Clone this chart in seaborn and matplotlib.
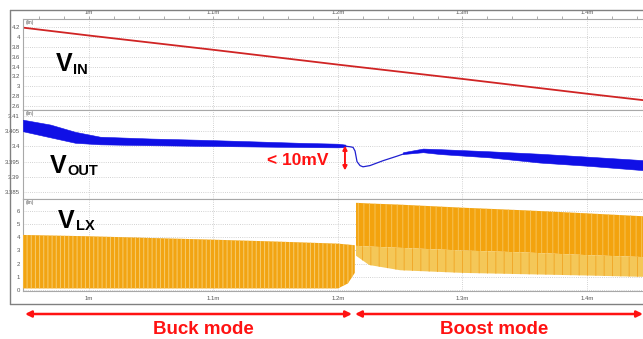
import matplotlib
matplotlib.use("Agg")
import matplotlib.pyplot as plt
import seaborn as sns
import pandas as pd
from matplotlib.patches import FancyArrowPatch
from matplotlib.lines import Line2D

# ---------------- data (time in ms) ----------------
t_vin = [0.947, 1.0, 1.1, 1.2, 1.3, 1.4, 1.445]
vin = [4.19, 4.03, 3.74, 3.44, 3.15, 2.85, 2.72]

t_vout_buck = [0.947, 0.969, 0.989, 1.009, 1.05, 1.089, 1.13, 1.169, 1.2, 1.206]
vout_buck_hi = [3.4088, 3.4072, 3.4048, 3.4032, 3.4026, 3.4022, 3.4017, 3.4012, 3.4009, 3.4006]
vout_buck_lo = [3.4050, 3.4030, 3.4012, 3.4007, 3.4004, 3.4002, 3.4000, 3.3998, 3.3997, 3.3998]

t_vout_tr = [1.2056, 1.2097, 1.2121, 1.2137, 1.2153, 1.2177, 1.2201, 1.2257, 1.2361, 1.2474, 1.2538]
vout_tr = [3.4001, 3.3999, 3.3997, 3.3985, 3.3950, 3.3937, 3.3933, 3.3937, 3.3953, 3.3968, 3.3977]

t_vout_boost = [1.2522, 1.2683, 1.282, 1.322, 1.362, 1.402, 1.445]
vout_boost_hi = [3.3981, 3.3993, 3.3991, 3.3984, 3.3976, 3.3966, 3.3955]
vout_boost_lo = [3.3975, 3.3981, 3.3975, 3.3964, 3.3947, 3.3936, 3.3922]

t_lx_buck = [0.947, 1.0, 1.05, 1.1, 1.15, 1.2, 1.208, 1.2135]
vlx_buck_hi = [4.18, 4.08, 3.95, 3.82, 3.68, 3.52, 3.45, 3.40]
vlx_buck_lo = [0.12, 0.12, 0.12, 0.12, 0.12, 0.12, 0.5, 1.3]

t_lx_boost = [1.2145, 1.225, 1.25, 1.3, 1.35, 1.4, 1.445]
vlx_boost_hi = [6.62, 6.57, 6.48, 6.25, 6.05, 5.82, 5.6]
vlx_boost_mid = [3.35, 3.3, 3.2, 3.0, 2.85, 2.65, 2.5]
vlx_boost_lo = [2.6, 1.9, 1.5, 1.3, 1.2, 1.1, 1.0]

x_major = [1.0, 1.1, 1.2, 1.3, 1.4]
x_labels = ["1m", "1.1m", "1.2m", "1.3m", "1.4m"]
vin_ticks = [2.6, 2.8, 3.0, 3.2, 3.4, 3.6, 3.8, 4.0, 4.2]
vin_labels = ["2.6", "2.8", "3", "3.2", "3.4", "3.6", "3.8", "4", "4.2"]
vout_ticks = [3.385, 3.39, 3.395, 3.4, 3.405, 3.41]
vout_labels = ["3.385", "3.39", "3.395", "3.4", "3.405", "3.41"]
vlx_ticks = [0, 1, 2, 3, 4, 5, 6]
vlx_labels = ["0", "1", "2", "3", "4", "5", "6"]

# ---------------- style ----------------
sns.set_style("white")
plt.rcParams["font.family"] = ["Liberation Sans", "DejaVu Sans"]
plt.rcParams["hatch.linewidth"] = 0.7

W, H = 643, 339
fig = plt.figure(figsize=(6.43, 3.39), dpi=100)
fig.patch.set_facecolor("white")


def fx(x):
    return x / W


def fy(y):
    return 1 - y / H


def add_ax(top, bottom):
    return fig.add_axes([fx(23), fy(bottom), 1 - fx(23), (bottom - top) / H])


ax1 = add_ax(19, 110)
ax2 = add_ax(110, 199)
ax3 = add_ax(199, 291)

GRID = "#c4c4c4"
TICKC = "#555555"
SPINE = "#a8a8a8"

# ---------------- VIN ----------------
df_vin = pd.DataFrame({"t": t_vin, "v": vin})
sns.lineplot(data=df_vin, x="t", y="v", ax=ax1, color="#d02424", linewidth=1.3)

# ---------------- VOUT ----------------
ax2.fill_between(t_vout_buck, vout_buck_lo, vout_buck_hi, facecolor="#1010e6",
                 edgecolor="#1010e6", linewidth=0.4, zorder=3)
df_tr = pd.DataFrame({"t": t_vout_tr, "v": vout_tr})
sns.lineplot(data=df_tr, x="t", y="v", ax=ax2, color="#2020d0", linewidth=0.9, zorder=3)
ax2.fill_between(t_vout_boost, vout_boost_lo, vout_boost_hi, facecolor="#1010e6",
                 edgecolor="#1010e6", linewidth=0.4, zorder=3)

# ---------------- VLX ----------------
ax3.fill_between(t_lx_buck, vlx_buck_lo, vlx_buck_hi, facecolor="#f2a412",
                 edgecolor="#f6cc70", hatch="||||", linewidth=0, zorder=3)
ax3.fill_between(t_lx_boost, vlx_boost_mid, vlx_boost_hi, facecolor="#f3a30e",
                 edgecolor="#f6c256", hatch="|||", linewidth=0, zorder=3)
ax3.fill_between(t_lx_boost, vlx_boost_lo, vlx_boost_mid, facecolor="#f4c758",
                 edgecolor="#f1a92a", hatch="||", linewidth=0, zorder=3)

for ax, ticks, labels, ylim in [
    (ax1, vin_ticks, vin_labels, (2.52, 4.365)),
    (ax2, vout_ticks, vout_labels, (3.3827, 3.412)),
    (ax3, vlx_ticks, vlx_labels, (-0.076, 6.91)),
]:
    ax.set_xlabel("")
    ax.set_ylabel("")
    ax.set_xlim(0.947, 1.445)
    ax.set_ylim(*ylim)
    ax.set_yticks(ticks)
    ax.set_yticklabels(labels)
    ax.set_xticks(x_major)
    ax.set_xticks([v / 100 for v in range(96, 146, 2)], minor=True)
    ax.tick_params(axis="y", length=0, pad=2.2, labelsize=4.3, labelcolor=TICKC)
    ax.grid(True, which="major", color=GRID, linestyle=(0, (1, 1.6)), linewidth=0.6)
    for s in ["top", "bottom", "left", "right"]:
        ax.spines[s].set_color(SPINE)
        ax.spines[s].set_linewidth(0.8)
    ax.spines["right"].set_visible(False)
    ax.set_axisbelow(True)
    ax.text(0.004, 0.985, "(lin)", transform=ax.transAxes, fontsize=3.6,
            color=TICKC, va="top", ha="left")

# top axis labels on ax1
ax1.xaxis.tick_top()
ax1.set_xticklabels(x_labels)
ax1.tick_params(axis="x", which="both", direction="out", length=2.2, width=0.5,
                color="#888888", pad=0.5, labelsize=4.3, labelcolor=TICKC)
ax2.tick_params(axis="x", which="both", length=0, labelbottom=False)
ax3.set_xticklabels(x_labels)
ax3.tick_params(axis="x", which="both", direction="out", length=2.2, width=0.5,
                color="#888888", pad=1.5, labelsize=4.3, labelcolor=TICKC)

# ---------------- outer frame ----------------
FRAME = "#808080"
fig.add_artist(Line2D([fx(10), fx(10)], [fy(10), fy(304)], color=FRAME, lw=1.0))
fig.add_artist(Line2D([fx(10), 1], [fy(10), fy(10)], color=FRAME, lw=1.0))
fig.add_artist(Line2D([fx(10), 1], [fy(304), fy(304)], color=FRAME, lw=1.0))

# ---------------- labels ----------------
big = dict(fontweight="bold", color="black", va="baseline", ha="left")
fig.text(fx(56), fy(71), "V", fontsize=18, **big)
fig.text(fx(73), fy(74), "IN", fontsize=10.5, **big)
fig.text(fx(50), fy(173), "V", fontsize=18, **big)
fig.text(fx(67), fy(175), "OUT", fontsize=10.5, **big)
fig.text(fx(58), fy(228), "V", fontsize=18, **big)
fig.text(fx(76), fy(230), "LX", fontsize=10.5, **big)

RED = "#ff1212"
fig.text(fx(267), fy(165), "< 10mV", fontsize=12.5, fontweight="bold", color=RED,
         va="baseline", ha="left")
ax2.annotate("", xy=(1.2056, 3.3921), xytext=(1.2056, 3.4003),
             arrowprops=dict(arrowstyle="<|-|>", color=RED, lw=1.4,
                             mutation_scale=6, shrinkA=0, shrinkB=0), zorder=5)

for x0, x1 in [(25, 352), (355, 643)]:
    fig.add_artist(FancyArrowPatch((fx(x0), fy(314)), (fx(x1), fy(314)),
                                   transform=fig.transFigure, arrowstyle="<|-|>",
                                   color=RED, lw=1.8, mutation_scale=9,
                                   shrinkA=0, shrinkB=0))
fig.text(fx(203), fy(334), "Buck mode", fontsize=13.5, fontweight="bold", color=RED,
         ha="center", va="baseline")
fig.text(fx(494), fy(334), "Boost mode", fontsize=13.5, fontweight="bold", color=RED,
         ha="center", va="baseline")

fig.savefig("out.png", dpi=100, facecolor="white")
